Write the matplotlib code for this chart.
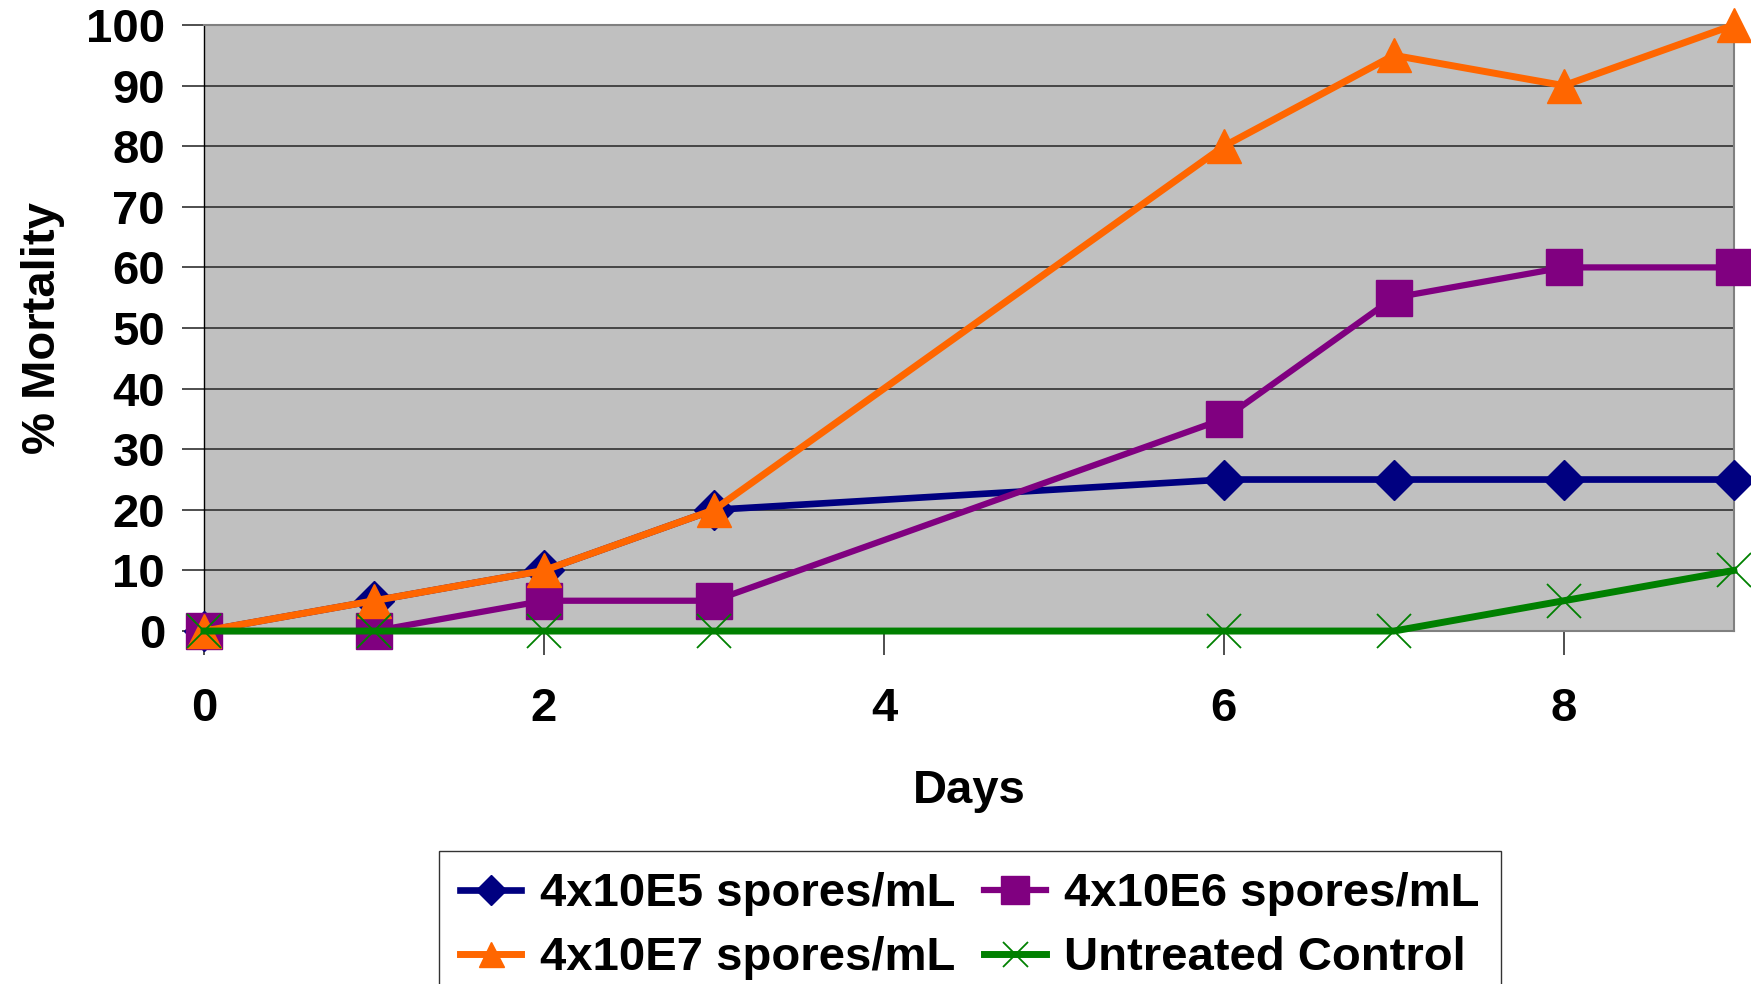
import matplotlib
matplotlib.use("Agg")
import matplotlib.pyplot as plt

days = [0, 1, 2, 3, 6, 7, 8, 9]
e5 = [0, 5, 10, 20, 25, 25, 25, 25]
e6 = [0, 0, 5, 5, 35, 55, 60, 60]
e7 = [0, 5, 10, 20, 80, 95, 90, 100]
control = [0, 0, 0, 0, 0, 0, 5, 10]
labels = ["4x10E5 spores/mL", "4x10E6 spores/mL", "4x10E7 spores/mL", "Untreated Control"]

plt.rcParams['font.family'] = ['Liberation Sans', 'DejaVu Sans']
plt.rcParams['font.weight'] = 'bold'
fs = 34

fig = plt.figure(figsize=(17.51, 9.84), dpi=100)
ax = fig.add_axes([0.1165, 0.3587, 0.8737, 0.6159])
ax.set_facecolor('#C0C0C0')

l1, = ax.plot(days, e5, '-D', color='#000080', lw=4.8, ms=20, label=labels[0], clip_on=False, zorder=3)
l2, = ax.plot(days, e6, '-s', color='#800080', lw=4.5, ms=26, label=labels[1], clip_on=False, zorder=3)
l3, = ax.plot(days, e7, '-^', color='#FF6600', lw=5, ms=24, label=labels[2], clip_on=False, zorder=3)
l4, = ax.plot(days, control, '-x', color='#008000', lw=5, ms=24, mew=1.3, label=labels[3], clip_on=False, zorder=3)

ax.set_xlim(0, 9)
ax.set_ylim(0, 100)
ax.set_xticks([0, 2, 4, 6, 8])
ax.set_yticks(range(0, 101, 10))
ax.yaxis.grid(True, color='#303030', lw=1.2)
ax.set_axisbelow(True)

for s in ['top', 'right', 'bottom']:
    ax.spines[s].set_color('#808080')
    ax.spines[s].set_linewidth(1.5)
ax.spines['left'].set_color('black')
ax.spines['left'].set_linewidth(1)

ax.tick_params(axis='y', length=16, width=1.2, pad=12, labelsize=fs, color='#303030')
ax.tick_params(axis='x', length=17, width=1.2, pad=23, labelsize=fs, color='#303030')
for t in ax.get_xticklabels() + ax.get_yticklabels():
    t.set_fontweight('bold')

ax.set_xlabel("Days", fontsize=fs, fontweight='bold')
ax.xaxis.set_label_coords(0.5, -0.228)
ax.set_ylabel("% Mortality", fontsize=fs, fontweight='bold')
ax.yaxis.set_label_coords(-0.091, 0.5)

# legend rows: E5, E6 / E7, Control
leg = fig.legend([l1, l3, l2, l4], [labels[0], labels[2], labels[1], labels[3]],
                 loc='upper center', bbox_to_anchor=(0.554, 0.135), ncol=2,
                 fontsize=fs, frameon=True, fancybox=False, edgecolor='black',
                 handlelength=1.3, handletextpad=0.4, columnspacing=0.6,
                 borderpad=0.45, labelspacing=0.42, markerscale=0.75, borderaxespad=0)
leg.get_frame().set_linewidth(1)
for t in leg.get_texts():
    t.set_fontweight('bold')

fig.savefig("out.png", dpi=100)
